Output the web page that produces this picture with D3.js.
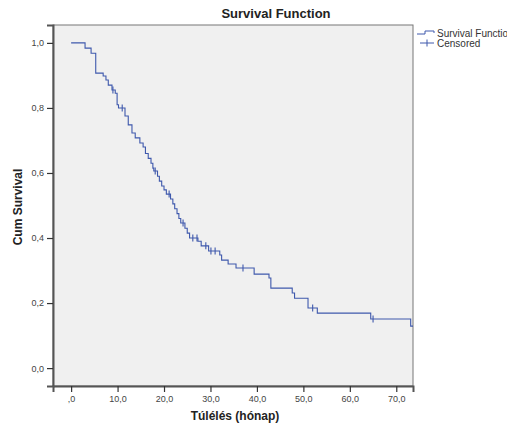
<!DOCTYPE html>
<html lang="en">
<head>
<meta charset="UTF-8">
<title>Survival Function</title>
<script src="https://cdn.jsdelivr.net/npm/d3@7"></script>
<style>
    body { margin: 0; padding: 0; background: #fff; overflow: hidden; }
    svg text { font-family: 'Liberation Sans', Arial, sans-serif; }
</style>
</head>
<body>
<svg id="chart" width="507" height="430"></svg>
<script>
    // event times (months) and cumulative survival after each step
    const times = [0, 3.0, 4.3, 5.3, 6.9, 7.5, 8.0, 8.8, 9.5, 9.9, 10.2, 11.6, 12.3, 13.1, 13.8, 14.8,
        15.5, 16.0, 16.6, 17.2, 17.6, 17.8, 18.6, 19.0, 19.5, 20.0, 20.5, 21.4, 21.9, 22.3, 22.8, 23.2,
        23.6, 24.5, 25.0, 25.5, 27.3, 28.0, 29.6, 32.0, 32.4, 33.8, 35.5, 39.4, 42.6, 43.0, 47.6, 48.1,
        51.0, 53.0, 64.5, 73.1, 73.6];
    const survival = [1.0, 0.984, 0.968, 0.907, 0.898, 0.886, 0.870, 0.855, 0.845, 0.810, 0.800, 0.775,
        0.748, 0.723, 0.708, 0.692, 0.680, 0.660, 0.645, 0.630, 0.615, 0.606, 0.590, 0.575, 0.560, 0.548,
        0.535, 0.520, 0.505, 0.490, 0.475, 0.460, 0.446, 0.430, 0.415, 0.400, 0.390, 0.376, 0.360, 0.348,
        0.332, 0.320, 0.308, 0.289, 0.277, 0.246, 0.231, 0.215, 0.185, 0.169, 0.151, 0.129, 0.129];

    // censored observations
    const censorTimes = [9.0, 11.0, 18.1, 21.1, 24.1, 26.2, 27.1, 29.0, 30.1, 31.0, 37.0, 52.0, 65.0];
    const censorSurv  = [0.855, 0.800, 0.606, 0.535, 0.446, 0.400, 0.400, 0.376, 0.360, 0.360, 0.308, 0.185, 0.151];

    const xTicks = [0, 10, 20, 30, 40, 50, 60, 70];
    const yTicks = [0, 0.2, 0.4, 0.6, 0.8, 1.0];

    const svg = d3.select("#chart");
    const plotLeft = 53, plotRight = 413, plotTop = 25, plotBottom = 386;
    const lineColor = "#3e58ac";

    const x = d3.scaleLinear().domain([-3.9, 73.6]).range([plotLeft, plotRight]);
    const y = d3.scaleLinear().domain([-0.055, 1.055]).range([plotBottom, plotTop]);

    // plot background + frame
    svg.append("rect")
        .attr("x", plotLeft).attr("y", plotTop)
        .attr("width", plotRight - plotLeft).attr("height", plotBottom - plotTop)
        .attr("fill", "#f0f0f0")
        .attr("stroke", "#777").attr("stroke-width", 1);

    const comma = v => d3.format(".1f")(v).replace(".", ",");

    const yAxis = svg.append("g")
        .attr("transform", `translate(${plotLeft},0)`)
        .call(d3.axisLeft(y).tickValues(yTicks).tickSize(6).tickPadding(3).tickFormat(comma));

    const xAxis = svg.append("g")
        .attr("transform", `translate(0,${plotBottom})`)
        .call(d3.axisBottom(x).tickValues(xTicks).tickSize(6).tickPadding(4)
            .tickFormat(v => v === 0 ? ",0" : comma(v)));

    [yAxis, xAxis].forEach(a => {
        a.select(".domain").attr("stroke", "#555").attr("stroke-width", 2);
        a.selectAll(".tick line").attr("stroke", "#333").attr("stroke-width", 1.2);
        a.selectAll(".tick text").attr("fill", "#444").style("font-size", "9px");
    });

    // survival step curve
    const pts = times.map((t, i) => [t, survival[i]]);
    const line = d3.line()
        .x(d => x(d[0]))
        .y(d => y(d[1]))
        .curve(d3.curveStepAfter);

    svg.append("path")
        .datum(pts)
        .attr("d", line)
        .attr("fill", "none")
        .attr("stroke", lineColor)
        .attr("stroke-width", 1.1);

    // censored marks
    svg.append("g")
        .selectAll("line")
        .data(censorTimes.map((t, i) => [t, censorSurv[i]]))
        .enter().append("line")
        .attr("x1", d => x(d[0])).attr("x2", d => x(d[0]))
        .attr("y1", d => y(d[1]) - 3.5).attr("y2", d => y(d[1]) + 3.5)
        .attr("stroke", lineColor)
        .attr("stroke-width", 1.1);

    // titles
    svg.append("text")
        .attr("x", 276).attr("y", 18)
        .attr("text-anchor", "middle")
        .style("font-size", "13px").style("font-weight", "bold")
        .attr("fill", "#222")
        .text("Survival Function");

    svg.append("text")
        .attr("transform", "translate(22,207) rotate(-90)")
        .attr("text-anchor", "middle")
        .style("font-size", "12px").style("font-weight", "bold")
        .attr("fill", "#222")
        .text("Cum Survival");

    svg.append("text")
        .attr("x", 235).attr("y", 420)
        .attr("text-anchor", "middle")
        .style("font-size", "12px").style("font-weight", "bold")
        .attr("fill", "#222")
        .text("Túlélés (hónap)");

    // legend
    const legend = svg.append("g");
    legend.append("path")
        .attr("d", "M417,34H425V31H434V33")
        .attr("fill", "none").attr("stroke", lineColor).attr("stroke-width", 1);
    legend.append("text")
        .attr("x", 437).attr("y", 37)
        .style("font-size", "10px").attr("fill", "#333")
        .text("Survival Function");
    legend.append("line")
        .attr("x1", 420).attr("x2", 434).attr("y1", 43).attr("y2", 43)
        .attr("stroke", lineColor).attr("stroke-width", 1);
    legend.append("line")
        .attr("x1", 427).attr("x2", 427).attr("y1", 39.5).attr("y2", 46.5)
        .attr("stroke", lineColor).attr("stroke-width", 1);
    legend.append("text")
        .attr("x", 437).attr("y", 47)
        .style("font-size", "10px").attr("fill", "#333")
        .text("Censored");
</script>
</body>
</html>
